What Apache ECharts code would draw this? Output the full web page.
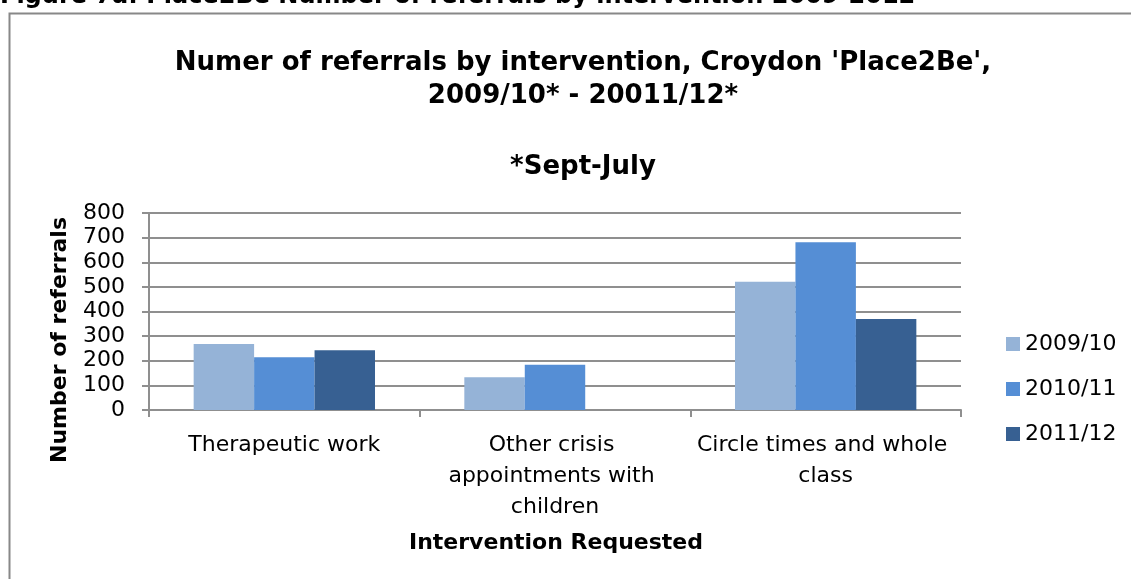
<!DOCTYPE html>
<html><head><meta charset="utf-8">
<script src="https://cdn.jsdelivr.net/npm/echarts@6/dist/echarts.min.js"></script>
<style>html,body{margin:0;padding:0;background:#fff}#c{width:1131px;height:579px}</style>
</head><body><div id="c"></div>
<script>
var categories = ['Therapeutic work', 'Other crisis appointments with children', 'Circle times and whole class'];
var seriesNames = ['2009/10', '2010/11', '2011/12'];
var s2009 = [268, 133, 521];
var s2010 = [214, 184, 681];
var s2011 = [243, 0, 370];
var yTicks = [0, 800, 100];
var colors = ['#95B3D7', '#558ED5', '#376092'];
var FONT = 'DejaVu Sans, sans-serif';
var chart = echarts.init(document.getElementById('c'));
var grid = '#8f8f8f';
chart.setOption({
  animation: false,
  backgroundColor: '#fff',
  textStyle: {fontFamily: FONT},
  title: [
    {text: "Numer of referrals by intervention, Croydon 'Place2Be',\n2009/10* - 20011/12*", left: 578, top: 42, textAlign: 'center',
     textStyle: {fontFamily: FONT, fontSize: 26, fontWeight: 'bold', color: '#000', lineHeight: 33}},
    {text: '*Sept-July', left: 578, top: 149, textAlign: 'center',
     textStyle: {fontFamily: FONT, fontSize: 26, fontWeight: 'bold', color: '#000'}}
  ],
  graphic: [
    {type: 'text', left: 0, top: -15, style: {text: 'Figure 7a: Place2Be Number of referrals by intervention 2009-2012', font: 'bold 24px ' + FONT, fill: '#000'}},
    {type: 'rect', shape: {x: 9.5, y: 13.5, width: 1200, height: 700}, style: {fill: 'none', stroke: '#888', lineWidth: 2}},
    {type: 'text', x: 60, y: 340, rotation: Math.PI / 2, style: {text: 'Number of referrals', font: 'bold 22px ' + FONT, fill: '#000', align: 'center', verticalAlign: 'middle'}},
    {type: 'text', x: 556, y: 543, style: {text: 'Intervention Requested', font: 'bold 22px ' + FONT, fill: '#000', align: 'center', verticalAlign: 'middle'}}
  ],
  legend: {
    orient: 'vertical', left: 1001, top: 328, itemWidth: 14, itemHeight: 14, itemGap: 23,
    icon: 'rect', textStyle: {fontFamily: FONT, fontSize: 22, color: '#000'},
    data: seriesNames
  },
  grid: {left: 149, right: 170, top: 213, bottom: 169},
  xAxis: {
    type: 'category', data: categories,
    axisLine: {lineStyle: {color: grid, width: 2}},
    axisTick: {show: true, length: 7, lineStyle: {color: grid, width: 2}},
    axisLabel: {interval: 0, margin: 20, fontSize: 22, color: '#000', lineHeight: 31, width: 268, overflow: 'break', fontFamily: FONT}
  },
  yAxis: {
    type: 'value', min: yTicks[0], max: yTicks[1], interval: yTicks[2],
    axisLine: {show: true, lineStyle: {color: grid, width: 2}},
    axisTick: {show: true, length: 7, lineStyle: {color: grid, width: 2}},
    splitLine: {lineStyle: {color: grid, width: 2}},
    axisLabel: {margin: 24, fontSize: 22, color: '#000', fontFamily: FONT}
  },
  series: [
    {name: seriesNames[0], type: 'bar', data: s2009, itemStyle: {color: colors[0]}, barGap: '0%', barCategoryGap: '33%'},
    {name: seriesNames[1], type: 'bar', data: s2010, itemStyle: {color: colors[1]}, barGap: '0%', barCategoryGap: '33%'},
    {name: seriesNames[2], type: 'bar', data: s2011, itemStyle: {color: colors[2]}, barGap: '0%', barCategoryGap: '33%'}
  ]
});
</script></body></html>
